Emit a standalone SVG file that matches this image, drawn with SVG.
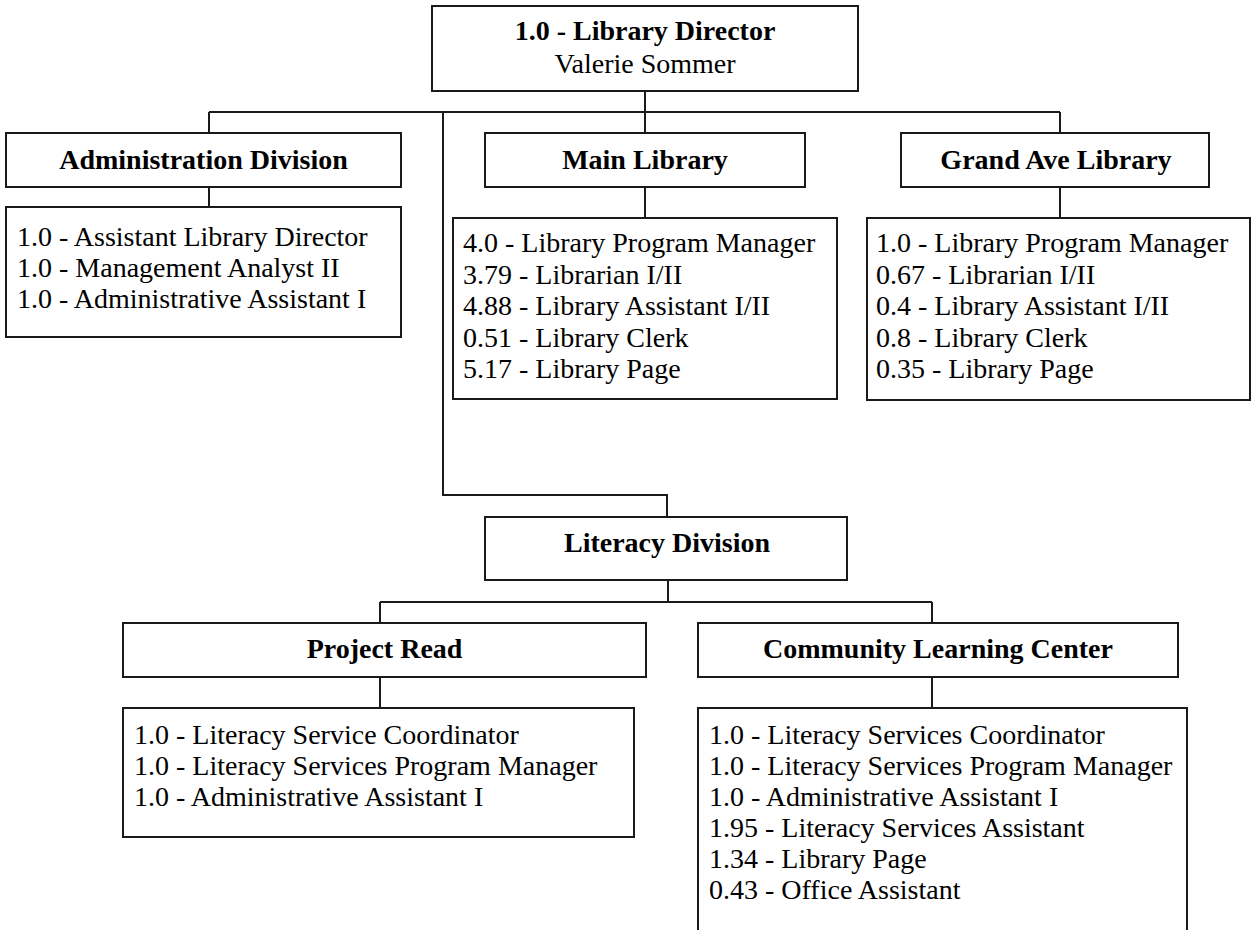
<svg xmlns="http://www.w3.org/2000/svg" width="1254" height="930" viewBox="0 0 1254 930">
<style>
rect.box{fill:#fff;stroke:#1a1a1a;stroke-width:2}
.conn path{fill:none;stroke:#1a1a1a;stroke-width:2}
text{font-family:"Liberation Serif","Times New Roman",serif;font-size:28px;fill:#000}
.t{font-weight:bold;text-anchor:middle}
.c{text-anchor:middle}
</style>
<rect width="1254" height="930" fill="#fff"/>
<g class="conn" id="connectors">
<path d="M645,91V112"/>
<path d="M209,112H1060"/>
<path d="M209,112V133M209,187V207"/>
<path d="M645,112V133M645,187V218"/>
<path d="M1060,112V133M1060,187V218"/>
<path d="M443,112V495H667V517"/>
<path d="M668,580V602"/>
<path d="M380,602H932"/>
<path d="M380,602V623M380,677V708"/>
<path d="M932,602V623M932,677V708"/>
</g>
<g id="director">
<rect class="box" x="432" y="6" width="426" height="85"/>
<text class="t" x="645" y="40">1.0 - Library Director</text>
<text class="c" x="645" y="73">Valerie Sommer</text>
</g>
<g id="admin">
<rect class="box" x="6" y="133" width="395" height="54"/>
<text class="t" x="203.5" y="169">Administration Division</text>
</g>
<g id="admin-staff">
<rect class="box" x="6" y="207" width="395" height="130"/>
<text x="17" y="246">1.0 - Assistant Library Director</text>
<text x="17" y="277">1.0 - Management Analyst II</text>
<text x="17" y="308">1.0 - Administrative Assistant I</text>
</g>
<g id="main">
<rect class="box" x="485" y="133" width="320" height="54"/>
<text class="t" x="645" y="169">Main Library</text>
</g>
<g id="main-staff">
<rect class="box" x="453" y="218" width="384" height="181"/>
<text x="463" y="252">4.0 - Library Program Manager</text>
<text x="463" y="283.5">3.79 - Librarian I/II</text>
<text x="463" y="315">4.88 - Library Assistant I/II</text>
<text x="463" y="346.5">0.51 - Library Clerk</text>
<text x="463" y="378">5.17 - Library Page</text>
</g>
<g id="grand">
<rect class="box" x="901" y="133" width="308" height="54"/>
<text class="t" x="1056" y="169">Grand Ave Library</text>
</g>
<g id="grand-staff">
<rect class="box" x="867" y="218" width="383" height="182"/>
<text x="876" y="252">1.0 - Library Program Manager</text>
<text x="876" y="283.5">0.67 - Librarian I/II</text>
<text x="876" y="315">0.4 - Library Assistant I/II</text>
<text x="876" y="346.5">0.8 - Library Clerk</text>
<text x="876" y="378">0.35 - Library Page</text>
</g>
<g id="literacy">
<rect class="box" x="485" y="517" width="362" height="63"/>
<text class="t" x="667" y="552">Literacy Division</text>
</g>
<g id="project-read">
<rect class="box" x="123" y="623" width="523" height="54"/>
<text class="t" x="384.5" y="658">Project Read</text>
</g>
<g id="project-read-staff">
<rect class="box" x="123" y="708" width="511" height="129"/>
<text x="134" y="744">1.0 - Literacy Service Coordinator</text>
<text x="134" y="775">1.0 - Literacy Services Program Manager</text>
<text x="134" y="806">1.0 - Administrative Assistant I</text>
</g>
<g id="clc">
<rect class="box" x="698" y="623" width="480" height="54"/>
<text class="t" x="938" y="658">Community Learning Center</text>
</g>
<g id="clc-staff">
<rect class="box" x="698" y="708" width="489" height="240"/>
<text x="709" y="744">1.0 - Literacy Services Coordinator</text>
<text x="709" y="775">1.0 - Literacy Services Program Manager</text>
<text x="709" y="806">1.0 - Administrative Assistant I</text>
<text x="709" y="837">1.95 - Literacy Services Assistant</text>
<text x="709" y="868">1.34 - Library Page</text>
<text x="709" y="899">0.43 - Office Assistant</text>
</g>
</svg>
